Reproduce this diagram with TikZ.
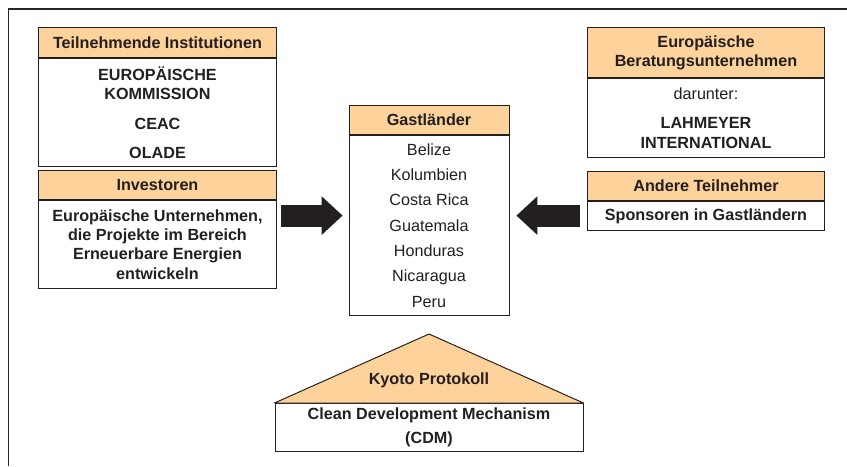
\documentclass[tikz,border=0pt]{standalone}
\usepackage{fontspec}
\setmainfont{Liberation Sans}
\usetikzlibrary{arrows.meta,calc,positioning}
\definecolor{peach}{RGB}{253,210,155}
\definecolor{darkink}{RGB}{35,31,32}

\tikzset{
  head/.style={draw=darkink, fill=peach, line width=0.7pt, inner sep=0pt, align=center, font=\bfseries},
  body/.style={draw=darkink, fill=white, line width=0.7pt, inner sep=0pt, align=center, font=\bfseries},
  bigarrow/.style={draw=darkink, line width=0.55cm, -{Triangle[length=0.525cm,width=0.975cm,line width=0pt]}}
}

\begin{document}
\fontsize{11.5}{13.7}\selectfont
\begin{tikzpicture}[text=darkink]
        \useasboundingbox (0,0) rectangle (21.175,11.65);

        % Frame
        \draw[line width=1pt, black!85] (0.2125,0) -- (0.2125,11.425) -- (21.175,11.425);

        % Teilnehmende Institutionen
        \node[head, minimum width=5.95cm, minimum height=0.75cm, anchor=north west] (inst) at (0.95,10.975) {Teilnehmende Institutionen};
        \node[body, minimum width=5.95cm, minimum height=2.7cm, below=0pt of inst] (instbody) {EUROPÄISCHE\\KOMMISSION\\[0.26cm]CEAC\\[0.24cm]OLADE};

        % Investoren
        \node[head, minimum width=5.95cm, minimum height=0.725cm, anchor=north west] (inv) at (0.95,7.4) {Investoren};
        \node[body, minimum width=5.95cm, minimum height=2.2cm, below=0pt of inv] (invbody) {Europäische Unternehmen,\\die Projekte im Bereich\\Erneuerbare Energien\\entwickeln};

        % Europaeische Beratungsunternehmen
        \node[head, minimum width=5.925cm, minimum height=1.25cm, anchor=north west] (berat) at (14.675,10.975) {Europäische\\Beratungsunternehmen};
        \node[body, minimum width=5.925cm, minimum height=1.975cm, below=0pt of berat] (beratbody) {{\mdseries darunter:}\\[0.25cm]LAHMEYER\\INTERNATIONAL};

        % Andere Teilnehmer
        \node[head, minimum width=5.925cm, minimum height=0.725cm, anchor=north west] (andere) at (14.675,7.375) {Andere Teilnehmer};
        \node[body, minimum width=5.925cm, minimum height=0.725cm, below=0pt of andere] (andbody) {Sponsoren in Gastländern};

        % Gastlaender
        \node[head, minimum width=4cm, minimum height=0.725cm, anchor=north] (gast) at (10.725,9.025) {Gastländer};
        \node[body, font=\mdseries, minimum width=4cm, minimum height=4.5cm, below=0pt of gast] (gastbody) {Belize\\[0.15cm]Kolumbien\\[0.15cm]Costa Rica\\[0.15cm]Guatemala\\[0.15cm]Honduras\\[0.15cm]Nicaragua\\[0.15cm]Peru};

        % Arrows
        \coordinate (mid) at (0,6.26);
        \draw[bigarrow, shorten <=0.1cm, shorten >=0.15cm] (invbody.east |- mid) -- (gastbody.west |- mid);
        \draw[bigarrow, shorten <=0.175cm, shorten >=0.175cm] (andbody.west |- mid) -- (gastbody.east |- mid);

        % Kyoto Protokoll / CDM
        \node[body, minimum width=7.7cm, minimum height=1.2cm, anchor=north] (cdm) at (10.725,1.575) {Clean Development Mechanism\\[0.12cm](CDM)};
        \filldraw[fill=peach, draw=darkink, line width=0.7pt, line join=round] (cdm.north west) -- ($(cdm.north)+(0,1.725)$) coordinate (apex) -- (cdm.north east) -- cycle;
        \node[font=\bfseries] (kyoto) at ($(cdm.north)+(0,0.575)$) {Kyoto Protokoll};
\end{tikzpicture}
\end{document}
